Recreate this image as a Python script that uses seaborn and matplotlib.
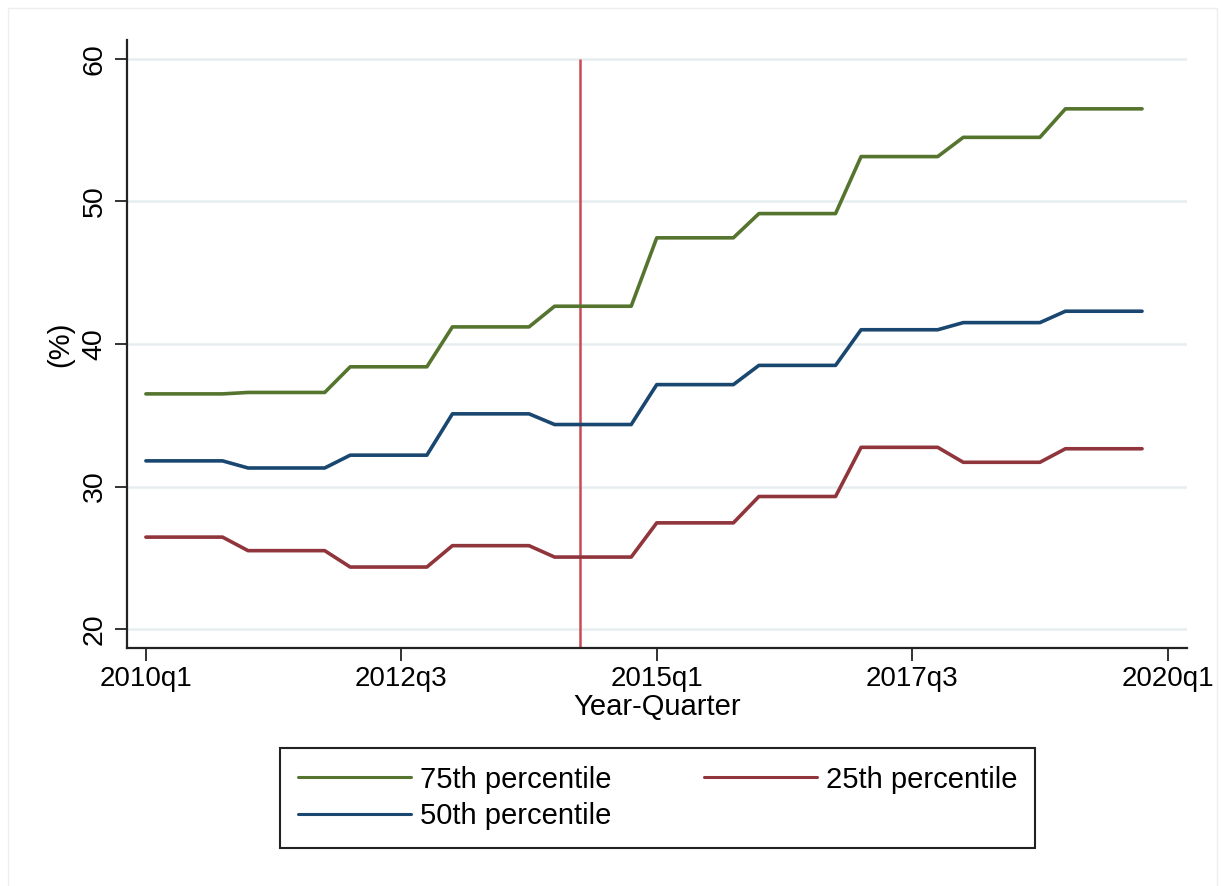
import matplotlib
matplotlib.use("Agg")
import matplotlib.pyplot as plt
from matplotlib.patches import Rectangle
import numpy as np
import pandas as pd
import seaborn as sns

# Quarterly series, 2010q1 .. 2019q4 (one row per year)
p75 = [
    36.5, 36.5, 36.5, 36.5,
    36.6, 36.6, 36.6, 36.6,
    38.4, 38.4, 38.4, 38.4,
    41.2, 41.2, 41.2, 41.2,
    42.65, 42.65, 42.65, 42.65,
    47.45, 47.45, 47.45, 47.45,
    49.15, 49.15, 49.15, 49.15,
    53.15, 53.15, 53.15, 53.15,
    54.5, 54.5, 54.5, 54.5,
    56.5, 56.5, 56.5, 56.5,
]
p50 = [
    31.8, 31.8, 31.8, 31.8,
    31.3, 31.3, 31.3, 31.3,
    32.2, 32.2, 32.2, 32.2,
    35.1, 35.1, 35.1, 35.1,
    34.35, 34.35, 34.35, 34.35,
    37.15, 37.15, 37.15, 37.15,
    38.5, 38.5, 38.5, 38.5,
    41.0, 41.0, 41.0, 41.0,
    41.5, 41.5, 41.5, 41.5,
    42.3, 42.3, 42.3, 42.3,
]
p25 = [
    26.45, 26.45, 26.45, 26.45,
    25.5, 25.5, 25.5, 25.5,
    24.35, 24.35, 24.35, 24.35,
    25.85, 25.85, 25.85, 25.85,
    25.05, 25.05, 25.05, 25.05,
    27.45, 27.45, 27.45, 27.45,
    29.3, 29.3, 29.3, 29.3,
    32.75, 32.75, 32.75, 32.75,
    31.7, 31.7, 31.7, 31.7,
    32.65, 32.65, 32.65, 32.65,
]
series_names = ["75th percentile", "50th percentile", "25th percentile"]
series_colors = ["#55752f", "#1a476f", "#90353b"]

# Quarter index 0 = 2010q1
tick_positions = [0, 10, 20, 30, 40]
tick_labels = ["2010q1", "2012q3", "2015q1", "2017q3", "2020q1"]
y_ticks = [20, 30, 40, 50, 60]
event_quarter = 17  # 2014q2

quarters = list(range(len(p75)))
df = pd.DataFrame({
    "quarter": quarters * 3,
    "value": p75 + p50 + p25,
    "series": [series_names[0]] * len(p75)
              + [series_names[1]] * len(p50)
              + [series_names[2]] * len(p25),
})

sns.set_theme(style="white")
plt.rcParams["font.family"] = ["Liberation Sans", "DejaVu Sans"]
plt.rcParams.update({
    "text.color": "black",
    "axes.labelcolor": "black",
    "xtick.color": "black",
    "ytick.color": "black",
})

fig = plt.figure(figsize=(12.21, 8.86), dpi=100)
fig.patch.set_facecolor("white")
ax = fig.add_axes([127 / 1221, 1 - 648 / 886, 1060 / 1221, 608 / 886])

ylo, yhi = 18.67, 61.33
ax.set_xlim(-0.74, 40.76)
ax.set_ylim(ylo, yhi)

# horizontal grid
for yv in y_ticks:
    ax.axhline(yv, color="#e7eef0", linewidth=1.8, zorder=0)

sns.lineplot(
    data=df, x="quarter", y="value", hue="series",
    hue_order=series_names,
    palette=dict(zip(series_names, series_colors)),
    linewidth=2.6, ax=ax, legend=False, zorder=3,
)

ax.vlines(event_quarter, ylo, 60, color="#c84b55", linewidth=1.8, zorder=2)

ax.set_xticks(tick_positions)
ax.set_xticklabels(tick_labels, fontsize=20, color="black")
ax.set_yticks(y_ticks)
ax.set_yticklabels([str(v) for v in y_ticks], fontsize=20.5, rotation=90,
                   va="center", color="black")
ax.tick_params(axis="both", which="both", length=9, width=1.3, color="#222222",
               direction="out", bottom=True, left=True)
ax.tick_params(axis="x", pad=4)
ax.tick_params(axis="y", pad=5)

ax.set_xlabel("Year-Quarter", fontsize=21, labelpad=1, color="black")
ax.set_ylabel("(%)", fontsize=21, labelpad=5, color="black")

for side in ["top", "right"]:
    ax.spines[side].set_visible(False)
for side in ["left", "bottom"]:
    ax.spines[side].set_color("#222222")
    ax.spines[side].set_linewidth(1.6)

handles = [plt.Line2D([], [], color=c, linewidth=2.2) for c in series_colors]
leg = fig.legend(
    handles, series_names, ncol=2, loc="upper left",
    bbox_to_anchor=(280 / 1221, 1 - 748 / 886, 755 / 1221, 0.0),
    mode="expand", borderaxespad=0, fontsize=21,
    handlelength=3.9, handletextpad=0.3, labelspacing=0.3,
    borderpad=0.6, columnspacing=2.0,
    frameon=True, fancybox=False, framealpha=1,
)
leg.get_frame().set_edgecolor("#222222")
leg.get_frame().set_linewidth(1.5)
for t in leg.get_texts():
    t.set_color("black")

# faint outer frame of the graph region
fig.add_artist(Rectangle((8 / 1221, -0.02), 1209 / 1221, 1.02 - 8 / 886,
                         transform=fig.transFigure, fill=False,
                         edgecolor="#eeeeee", linewidth=1.0))

fig.savefig("out.png", dpi=100, facecolor="white")
